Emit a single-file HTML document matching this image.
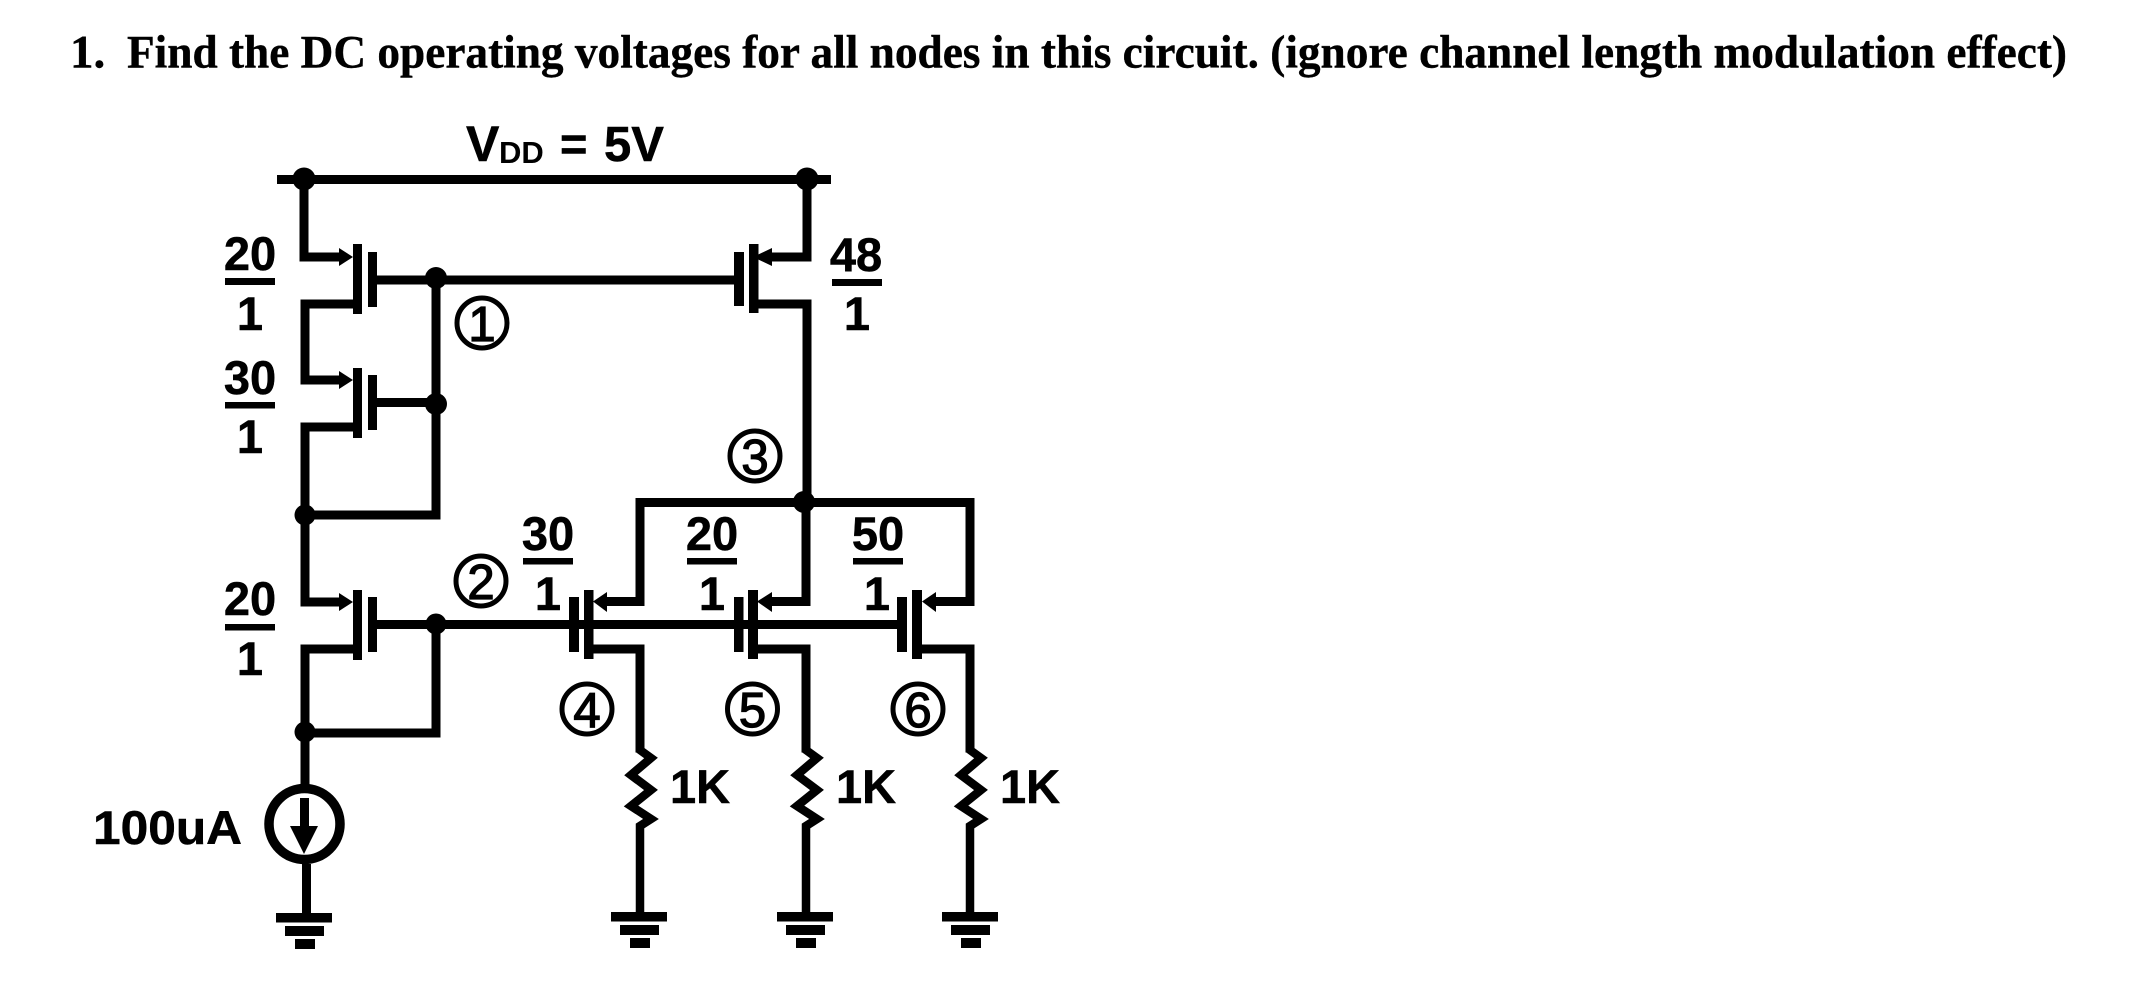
<!DOCTYPE html>
<html><head><meta charset="utf-8"><style>
html,body{margin:0;padding:0;background:#fff;width:2150px;height:999px;overflow:hidden}
svg{display:block}
.w{fill:none;stroke:#000;stroke-width:9;stroke-linecap:square;stroke-linejoin:miter}
.s{font-family:"Liberation Sans",sans-serif;font-weight:700;font-size:47px;fill:#000;stroke:#000;stroke-width:.5}
.c{text-anchor:middle}
.n{font-family:"Liberation Sans",sans-serif;font-weight:400;font-size:49px;fill:#000;stroke:#000;stroke-width:1.3;text-anchor:middle}
.o{fill:none;stroke:#000;stroke-width:5}
</style></head><body>
<svg width="2150" height="999" viewBox="0 0 2150 999" xmlns="http://www.w3.org/2000/svg">
<rect width="2150" height="999" fill="#fff"/>
<g font-family="'Liberation Serif',serif" font-weight="700" font-size="47" fill="#000" stroke="#000" stroke-width=".4">
<text x="70" y="67.500">1.</text>
<text x="127" y="67.500" textLength="1940" lengthAdjust="spacingAndGlyphs">Find the DC operating voltages for all nodes in this circuit. (ignore channel length modulation effect)</text>
</g>
<rect x="277" y="175" width="554" height="9"/>
<circle cx="304" cy="179" r="11.5"/><circle cx="807" cy="179" r="11.5"/>
<!-- left stack -->
<polyline class="w" points="304,179 304,257 340,257"/>
<polygon points="339,248 353,257 339,266"/>
<rect x="353" y="244" width="9" height="70"/><rect x="368" y="252" width="9" height="55"/>
<polyline class="w" points="353,304 305,304 305,380 340,380"/>
<polygon points="339,371 353,380 339,389"/>
<rect x="353" y="368" width="9" height="70"/><rect x="368" y="375" width="9" height="55"/>
<rect x="377" y="398" width="59" height="9"/>
<polyline class="w" points="353,427 305,427 305,602 340,602"/>
<polygon points="339,593 353,602 339,611"/>
<rect x="353" y="590" width="9" height="70"/><rect x="368" y="597" width="9" height="55"/>
<polyline class="w" points="353,649 305,649 305,785"/>
<polyline class="w" points="305,733 436,733 436,624"/>
<polyline class="w" points="305,515 436,515 436,280"/>
<rect x="377" y="275.500" width="357" height="9"/>
<circle cx="436" cy="278" r="11"/><circle cx="436" cy="404" r="11"/>
<circle cx="305" cy="515" r="10.500"/><circle cx="436" cy="624" r="10.500"/><circle cx="305" cy="732" r="10.500"/>
<!-- right top pmos -->
<polyline class="w" points="807,179 807,257 772,257"/>
<polygon points="772,248 753,257 772,266"/>
<rect x="749" y="244" width="9.500" height="69"/><rect x="734" y="252" width="10" height="54"/>
<polyline class="w" points="759,304 807,304 807,502"/>
<!-- bus -->
<polyline class="w" points="640,601.500 640,502.500 970,502.500 970,601.500"/>
<circle cx="804" cy="502" r="11"/>
<!-- gate bus -->
<rect x="377" y="620" width="520" height="9"/>
<!-- M4 -->
<polyline class="w" points="640,601.500 607,601.500"/><polygon points="607,592 593,601.500 607,612"/>
<rect x="584" y="590" width="9.500" height="69"/><rect x="569" y="597" width="10" height="55"/>
<polyline class="w" points="593,649 640,649 640,748"/>
<!-- M5 -->
<polyline class="w" points="806,502 806,601.500 772,601.500"/><polygon points="772,592 757,601.500 772,612"/>
<rect x="748" y="590" width="10" height="69"/><rect x="734" y="597" width="9.500" height="55"/>
<polyline class="w" points="758,649 806,649 806,748"/>
<!-- M6 -->
<polyline class="w" points="936,601.500 970,601.500"/><polygon points="936,592 922,601.500 936,612"/>
<rect x="912" y="590" width="10" height="69"/><rect x="897" y="597" width="10" height="55"/>
<polyline class="w" points="922,649 970,649 970,748"/>
<!-- resistors -->
<g fill="none" stroke="#000" stroke-width="8.500" stroke-linejoin="miter" stroke-linecap="butt">
<polyline points="640,745 640,750 651,758 631,775 651,790 631,806 651,819 640,826 640,912"/>
<polyline points="806,745 806,750 817,758 797,775 817,790 797,806 817,819 806,826 806,912"/>
<polyline points="970,745 970,750 981,758 961,775 981,790 961,806 981,819 970,826 970,912"/>
</g>
<!-- grounds -->
<g>
<rect x="276" y="913" width="56" height="9.500"/><rect x="285" y="926" width="39" height="10"/><rect x="295" y="939" width="20" height="10"/>
<rect x="611" y="912" width="56" height="9.500"/><rect x="620" y="925" width="39" height="10"/><rect x="630" y="938" width="20" height="10"/>
<rect x="777" y="912" width="56" height="9.500"/><rect x="786" y="925" width="39" height="10"/><rect x="796" y="938" width="20" height="10"/>
<rect x="942" y="912" width="56" height="9.500"/><rect x="951" y="925" width="39" height="10"/><rect x="961" y="938" width="20" height="10"/>
</g>
<!-- current source -->
<circle cx="304.500" cy="824" r="35.500" fill="none" stroke="#000" stroke-width="9.500"/>
<rect x="300" y="798" width="9" height="30"/>
<polygon points="290,826 318,826 304,854"/>
<rect x="302" y="864" width="9" height="50"/>
<!-- ratios -->
<g>
<text class="s c" x="250" y="270">20</text><rect x="225" y="278" width="50" height="7"/><text class="s c" x="250" y="330">1</text>
<text class="s c" x="250" y="394">30</text><rect x="225" y="402" width="50" height="6.500"/><text class="s c" x="250" y="453">1</text>
<text class="s c" x="250" y="615">20</text><rect x="225" y="624" width="50" height="6.500"/><text class="s c" x="250" y="675">1</text>
<text class="s c" x="856" y="271">48</text><rect x="832" y="279" width="50" height="7"/><text class="s c" x="857" y="330">1</text>
<text class="s c" x="548" y="550">30</text><rect x="523" y="558" width="50" height="6.500"/><text class="s c" x="548" y="610">1</text>
<text class="s c" x="712" y="550">20</text><rect x="687" y="558" width="50" height="6.500"/><text class="s c" x="712" y="610">1</text>
<text class="s c" x="878" y="550">50</text><rect x="853" y="558" width="50" height="6.500"/><text class="s c" x="877" y="610">1</text>
</g>
<text class="s" x="466" y="161" style="font-size:50px">V</text>
<text class="s" x="499" y="163" style="font-size:31px;stroke-width:0">DD</text>
<text class="s" x="560" y="160" style="font-size:47px">=</text>
<text class="s" x="604" y="161" style="font-size:49px">5V</text>
<text class="s" x="93" y="844" textLength="149" lengthAdjust="spacingAndGlyphs">100uA</text>
<text class="s" x="670" y="803">1K</text>
<text class="s" x="836" y="803">1K</text>
<text class="s" x="1000" y="803">1K</text>
<!-- node markers -->
<circle class="o" cx="482" cy="323" r="25"/><text class="n" x="482" y="341">1</text>
<circle class="o" cx="481" cy="581" r="25"/><text class="n" x="481" y="599">2</text>
<circle class="o" cx="755" cy="456" r="25"/><text class="n" x="755" y="474">3</text>
<circle class="o" cx="587" cy="709" r="25"/><text class="n" x="587" y="727">4</text>
<circle class="o" cx="752.500" cy="709" r="25"/><text class="n" x="752.500" y="727">5</text>
<circle class="o" cx="918" cy="709" r="25"/><text class="n" x="918" y="727">6</text>
</svg>
</body></html>
